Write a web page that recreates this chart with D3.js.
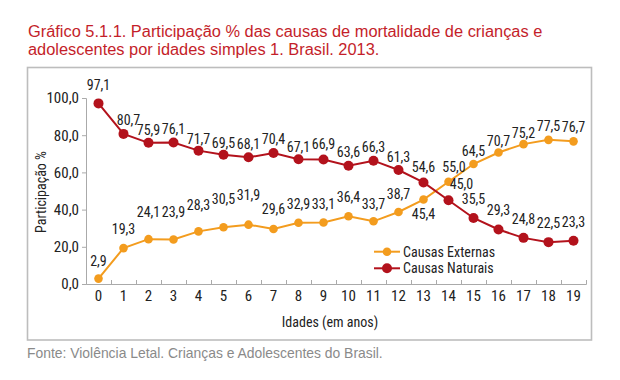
<!DOCTYPE html>
<html><head><meta charset="utf-8">
<script src="https://cdn.jsdelivr.net/npm/d3@7"></script>
<style>
html,body{margin:0;padding:0;background:#fff;}
svg{display:block;}
</style></head>
<body>
<svg id="c" width="620" height="380"></svg>
<script>
// ---- data ----
const ages = [0,1,2,3,4,5,6,7,8,9,10,11,12,13,14,15,16,17,18,19];
const externas = [2.9,19.3,24.1,23.9,28.3,30.5,31.9,29.6,32.9,33.1,36.4,33.7,38.7,45.4,55.0,64.5,70.7,75.2,77.5,76.7];
const naturais = [97.1,80.7,75.9,76.1,71.7,69.5,68.1,70.4,67.1,66.9,63.6,66.3,61.3,54.6,45.0,35.5,29.3,24.8,22.5,23.3];
const yTicks = [0,20,40,60,80,100];
const seriesNames = ["Causas Externas","Causas Naturais"];
const titleLines = ["Gráfico 5.1.1. Participação % das causas de mortalidade de crianças e",
                    "adolescentes por idades simples 1. Brasil. 2013."];
const xTitle = "Idades (em anos)";
const yTitle = "Participação %";
const source = "Fonte: Violência Letal. Crianças e Adolescentes do Brasil.";

// ---- label placement (layout only: distance of label centre above the point) ----
const extLabelUp = [17.6,19,26.7,27.1,25.6,28.3,29,19.9,18.7,18.5,19,17.4,18.1,-14.3,14.6,13,11.5,10.6,13.6,13.8];
const natLabelUp = [18.4,13.7,12.6,12.9,11.1,11.7,13,13.5,11.6,15.2,13.6,13.6,12.3,14.7,16.4,19,18.8,18.8,18.7,18.2];
const extLabelRight = ages.map((a,i)=> i===14 ? 5.5 : 0);
const natLabelRight = ages.map((a,i)=> i===1 ? 5 : (i===14 ? 13 : 0));

const cExt = "#f39c1e", cNat = "#b3121c", cTitle = "#c41e2a";
const narrow = "'Liberation Sans Narrow','Arial Narrow','Roboto Condensed',sans-serif";
const svg = d3.select("#c");

// frame
svg.append("rect").attr("x",27.5).attr("y",67.5).attr("width",564).attr("height",272.5)
  .attr("fill","none").attr("stroke","#bdbdbd").attr("stroke-width",1.6);

// title
const tl = svg.append("g");
titleLines.forEach((t,i)=>{
  tl.append("text").attr("x",28).attr("y",37+i*18).text(t)
    .attr("fill",cTitle).attr("font-family","'Liberation Sans',Arial,sans-serif")
    .attr("font-size",16);
});
// fit first line to reference width
const w0 = tl.select("text").node().getComputedTextLength();
const fs = 16*515/w0;
tl.selectAll("text").attr("font-size",fs);

// scales
const x = d3.scaleBand().domain(ages).range([86,586]).padding(0);
const xLin = d3.scaleLinear().domain([0,ages.length]).range([86,586]);
const y = d3.scaleLinear().domain([0,100]).range([284,98]);
const fmt = v => d3.format(".1f")(v).replace(".",",");
const cx = a => x(a) + x.bandwidth()/2;

// y axis
const ya = svg.append("g").attr("transform","translate(86,0)")
  .call(d3.axisLeft(y).tickValues(yTicks).tickFormat(fmt).tickSize(4).tickPadding(3));
ya.select(".domain").attr("stroke","#aaa");
ya.selectAll(".tick line").attr("stroke","#aaa");
ya.selectAll(".tick text").attr("font-family",narrow).attr("font-size",15).attr("fill","#222");

// x axis ticks (at band boundaries)
const xa = svg.append("g").attr("transform","translate(0,284)")
  .call(d3.axisBottom(xLin).ticks(ages.length).tickFormat("").tickSize(-4));
xa.select(".domain").attr("stroke","#aaa");
xa.selectAll(".tick line").attr("stroke","#aaa");
// x labels at band centres
const xl = svg.append("g").attr("transform","translate(0,284)")
  .call(d3.axisBottom(x).tickSize(0).tickPadding(6));
xl.select(".domain").remove();
xl.selectAll(".tick text").attr("font-family",narrow).attr("font-size",15).attr("fill","#222");

// axis titles
svg.append("text").attr("x",330).attr("y",327).attr("text-anchor","middle")
  .attr("font-family",narrow).attr("font-size",14).attr("fill","#222").text(xTitle);
svg.append("text").attr("transform","translate(46,192) rotate(-90)").attr("text-anchor","middle")
  .attr("font-family",narrow).attr("font-size",14).attr("fill","#222").text(yTitle);

// series
const line = d3.line().x((d,i)=>cx(ages[i])).y(d=>y(d));
function drawSeries(vals, color, r, up, right){
  const g = svg.append("g");
  g.append("path").datum(vals).attr("d",line).attr("fill","none").attr("stroke",color).attr("stroke-width",2);
  g.selectAll("circle").data(vals).join("circle")
    .attr("cx",(d,i)=>cx(ages[i])).attr("cy",d=>y(d)).attr("r",r).attr("fill",color);
  g.selectAll("text").data(vals).join("text")
    .attr("x",(d,i)=>cx(ages[i])+right[i]).attr("y",(d,i)=>y(d)-up[i]+4.7)
    .attr("text-anchor","middle").attr("font-family",narrow).attr("font-size",14).attr("fill","#222")
    .text(d=>fmt(d));
}
drawSeries(externas, cExt, 4.3, extLabelUp, extLabelRight);
drawSeries(naturais, cNat, 5, natLabelUp, natLabelRight);

// legend
const leg = svg.append("g");
[[seriesNames[0],cExt,251.7,4.3],[seriesNames[1],cNat,268.3,5]].forEach(([n,c,ly,r])=>{
  leg.append("line").attr("x1",374).attr("x2",400).attr("y1",ly).attr("y2",ly).attr("stroke",c).attr("stroke-width",2);
  leg.append("circle").attr("cx",387).attr("cy",ly).attr("r",r).attr("fill",c);
  leg.append("text").attr("x",403).attr("y",ly+5).attr("font-family",narrow).attr("font-size",14).attr("fill","#222").text(n);
});

// source
const src = svg.append("text").attr("x",27).attr("y",358).text(source)
  .attr("font-family","'Liberation Sans',Arial,sans-serif").attr("font-size",13).attr("fill","#8a8a8a");
const ws = src.node().getComputedTextLength();
src.attr("font-size",13*356/ws);
</script>
</body></html>
